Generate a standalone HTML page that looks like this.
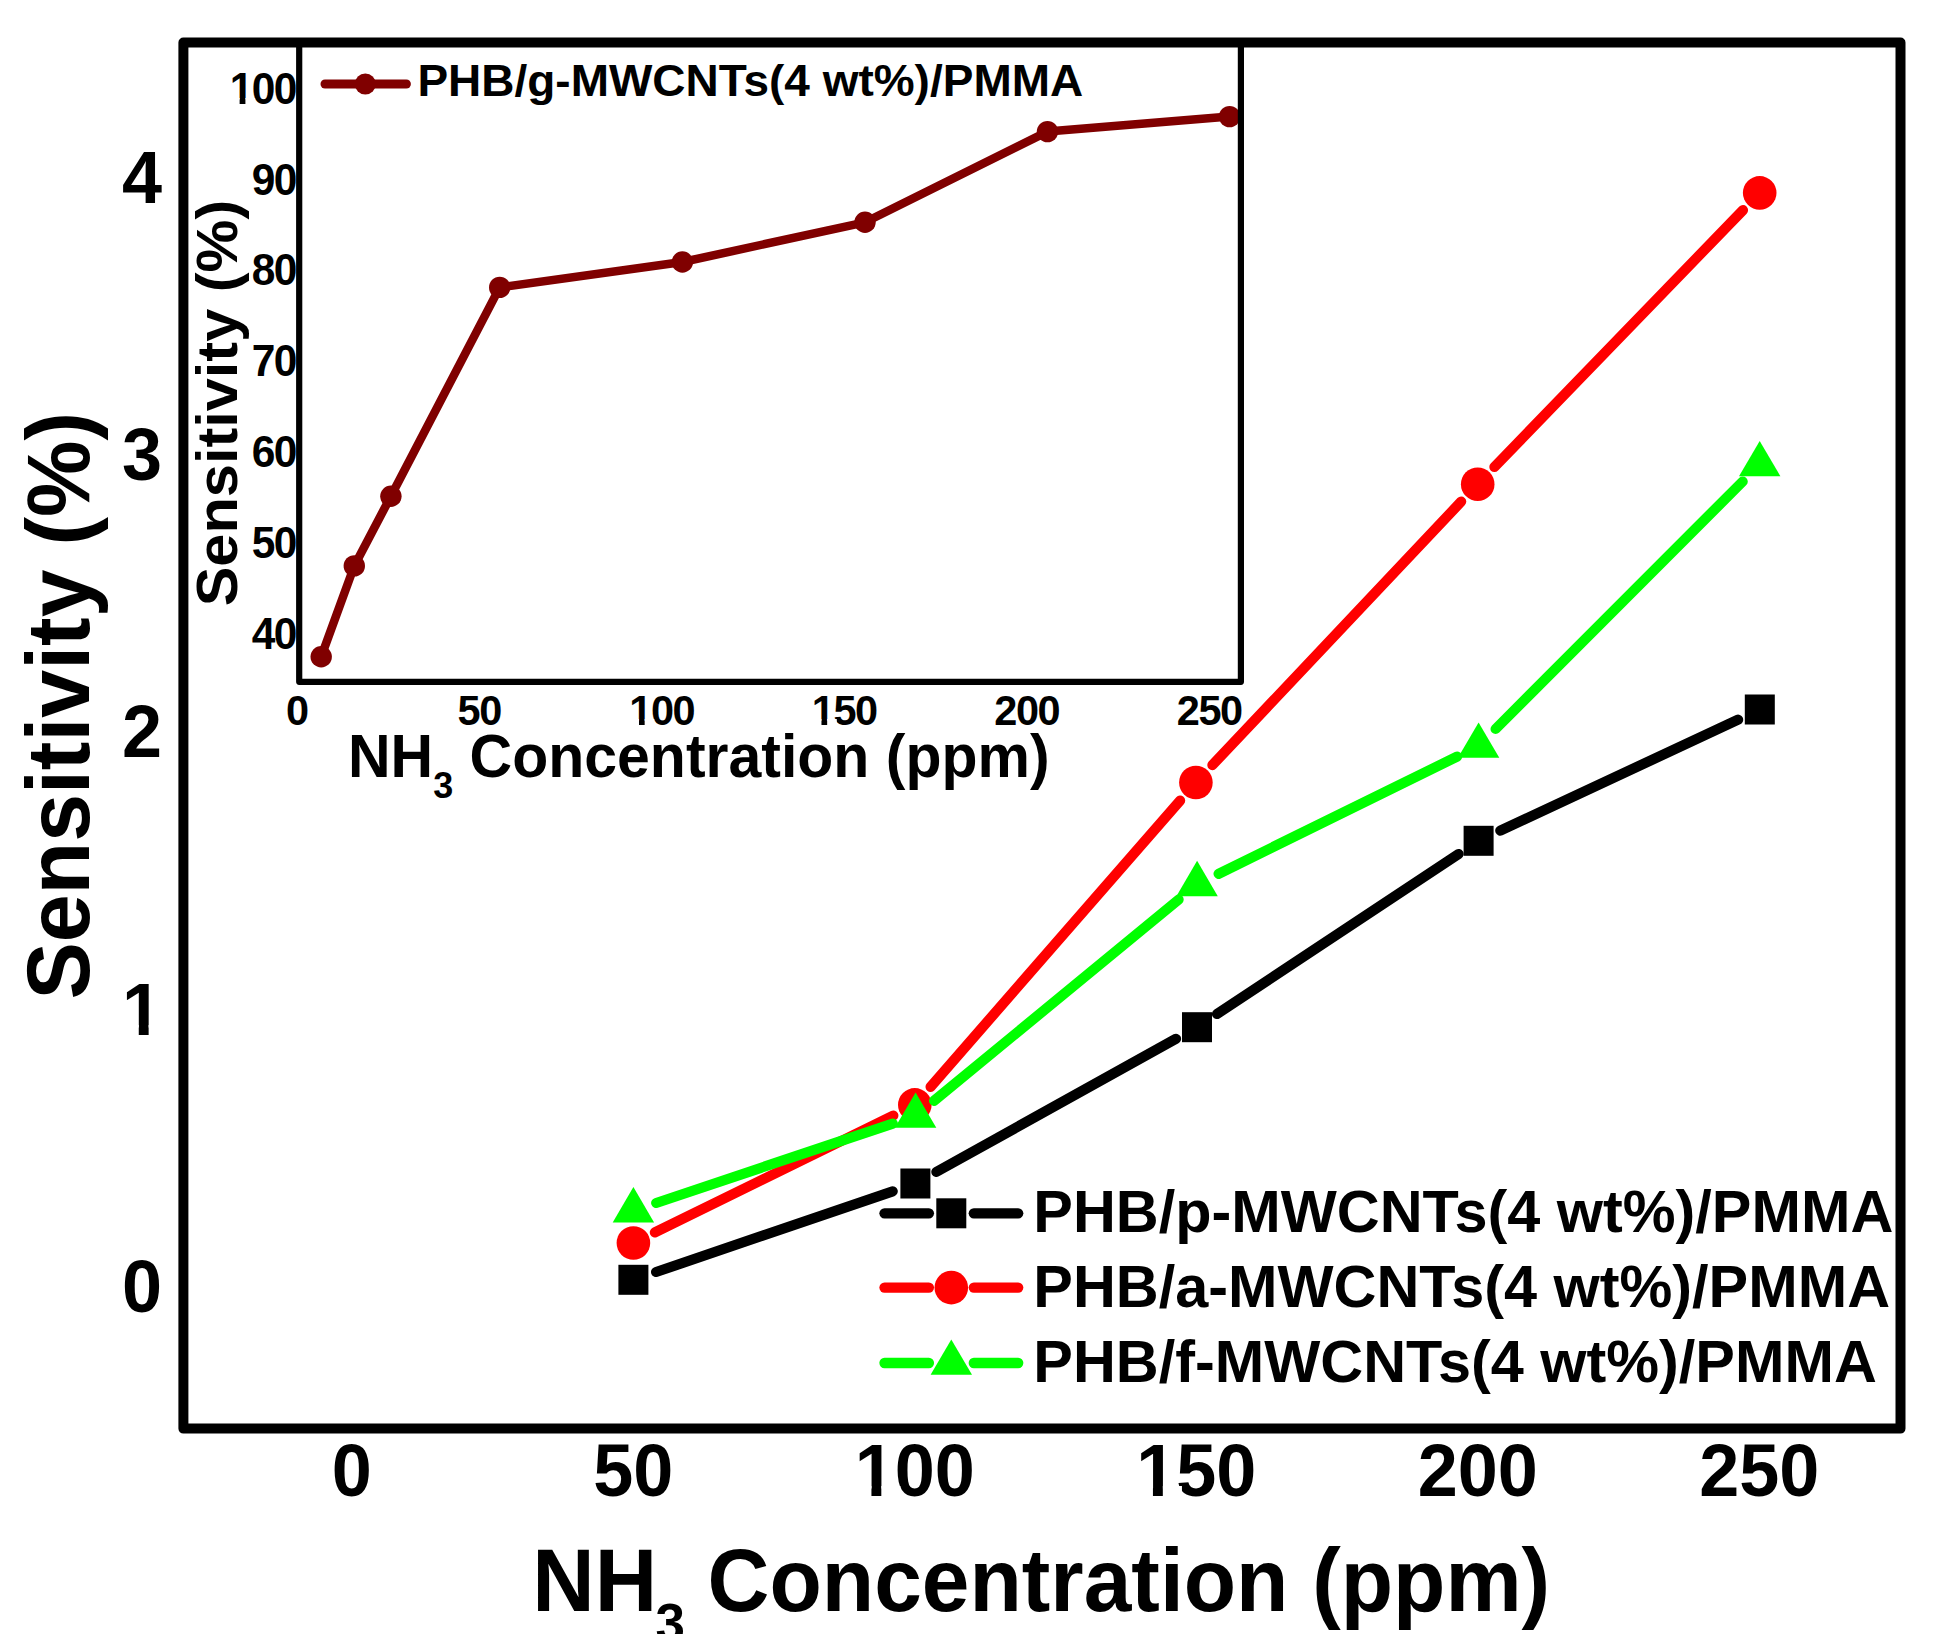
<!DOCTYPE html>
<html><head><meta charset="utf-8"><title>NH3 sensitivity chart</title>
<style>html,body{margin:0;padding:0;background:#fff;}svg{display:block;}text{font-family:"Liberation Sans",sans-serif;font-weight:bold;fill:#000;}</style>
</head><body>
<svg width="1948" height="1648" viewBox="0 0 1948 1648">
<rect x="0" y="0" width="1948" height="1648" fill="#fff"/>
<g stroke="#000" stroke-width="10.2" stroke-linecap="round" fill="none"><line x1="656.1" y1="1272.0" x2="892.7" y2="1191.3"/><line x1="936.4" y1="1171.9" x2="1176.0" y2="1038.8"/><line x1="1217.0" y1="1014.0" x2="1458.6" y2="854.0"/><line x1="1500.3" y1="830.6" x2="1738.1" y2="719.7"/></g>
<g fill="#000"><rect x="618.4" y="1264.8" width="30" height="30"/><rect x="900.4" y="1168.5" width="30" height="30"/><rect x="1182.0" y="1012.2" width="30" height="30"/><rect x="1463.6" y="825.8" width="30" height="30"/><rect x="1744.8" y="694.5" width="30" height="30"/></g>
<g stroke="#f00" stroke-width="10.2" stroke-linecap="round" fill="none"><line x1="654.9" y1="1232.4" x2="893.3" y2="1115.5"/><line x1="930.6" y1="1086.8" x2="1180.1" y2="800.6"/><line x1="1212.4" y1="765.1" x2="1461.2" y2="501.6"/><line x1="1494.4" y1="467.0" x2="1743.0" y2="210.1"/></g>
<g fill="#f00"><circle cx="633.4" cy="1243.0" r="16.8"/><circle cx="914.8" cy="1104.9" r="16.8"/><circle cx="1195.9" cy="782.5" r="16.8"/><circle cx="1477.7" cy="484.2" r="16.8"/><circle cx="1759.7" cy="192.9" r="16.8"/></g>
<g stroke="#0f0" stroke-width="10.2" stroke-linecap="round" fill="none"><line x1="656.2" y1="1203.0" x2="892.8" y2="1123.6"/><line x1="934.1" y1="1100.8" x2="1178.6" y2="899.6"/><line x1="1218.6" y1="873.8" x2="1457.1" y2="756.6"/><line x1="1495.6" y1="729.0" x2="1742.7" y2="481.5"/></g>
<g fill="#0f0"><polygon points="633.4,1187.0 612.7,1222.4 654.1,1222.4"/><polygon points="915.6,1092.4 894.9,1127.8 936.3,1127.8"/><polygon points="1197.1,860.8 1176.4,896.2 1217.8,896.2"/><polygon points="1478.6,722.4 1457.9,757.8 1499.3,757.8"/><polygon points="1759.7,440.9 1739.0,476.3 1780.4,476.3"/></g>
<g stroke="#000" stroke-width="10.3" stroke-linecap="round"><line x1="884.5" y1="1213.3" x2="928.9" y2="1213.3"/><line x1="973.8" y1="1213.3" x2="1018.2" y2="1213.3"/></g><g fill="#000"><rect x="936.3" y="1198.3" width="30" height="30"/></g>
<g stroke="#f00" stroke-width="10.3" stroke-linecap="round"><line x1="884.5" y1="1287.6" x2="928.9" y2="1287.6"/><line x1="973.8" y1="1287.6" x2="1018.2" y2="1287.6"/></g><g fill="#f00"><circle cx="951.3" cy="1287.6" r="16.8"/></g>
<g stroke="#0f0" stroke-width="10.3" stroke-linecap="round"><line x1="884.5" y1="1363" x2="928.9" y2="1363"/><line x1="973.8" y1="1363" x2="1018.2" y2="1363"/></g><g fill="#0f0"><polygon points="951.3,1339.4 930.6,1374.8 972.0,1374.8"/></g>
<g font-size="59.4">
<text x="1033.3" y="1232">PHB/p-MWCNTs(4 wt%)/PMMA</text>
<text x="1033.3" y="1306.7">PHB/a-MWCNTs(4 wt%)/PMMA</text>
<text x="1033.3" y="1381.5">PHB/f-MWCNTs(4 wt%)/PMMA</text>
</g>
<polyline fill="none" stroke="#800000" stroke-width="8.5" stroke-linejoin="round" points="321.2,656.8 354.3,565.9 390.9,496.2 499.7,287.4 682.4,262 865,222.3 1047.5,131.6 1229.6,116.6"/>
<g fill="#800000"><circle cx="321.2" cy="656.8" r="10.7"/><circle cx="354.3" cy="565.9" r="10.7"/><circle cx="390.9" cy="496.2" r="10.7"/><circle cx="499.7" cy="287.4" r="10.7"/><circle cx="682.4" cy="262.0" r="10.7"/><circle cx="865.0" cy="222.3" r="10.7"/><circle cx="1047.5" cy="131.6" r="10.7"/><circle cx="1229.6" cy="116.6" r="10.7"/></g>
<line x1="325" y1="84" x2="406.4" y2="84" stroke="#800000" stroke-width="9" stroke-linecap="round"/>
<circle cx="365.3" cy="84" r="10.5" fill="#800000"/>
<text x="417.4" y="96" font-size="46" transform="translate(0,96) scale(1,0.97) translate(0,-96)">PHB/g-MWCNTs(4 wt%)/PMMA</text>
<path d="M299.2,45 V681.8 H1240.9 V45" stroke="#000" stroke-width="6.2" fill="none" stroke-linejoin="round"/>
<text x="251.73" y="648.6" font-size="42.5" letter-spacing="-1.6" transform="translate(0,648.6) scale(1,1.035) translate(0,-648.6)">40</text>
<text x="251.73" y="557.8" font-size="42.5" letter-spacing="-1.6" transform="translate(0,557.8) scale(1,1.035) translate(0,-557.8)">50</text>
<text x="251.73" y="467.0" font-size="42.5" letter-spacing="-1.6" transform="translate(0,467.0) scale(1,1.035) translate(0,-467.0)">60</text>
<text x="251.73" y="376.2" font-size="42.5" letter-spacing="-1.6" transform="translate(0,376.2) scale(1,1.035) translate(0,-376.2)">70</text>
<text x="251.73" y="285.4" font-size="42.5" letter-spacing="-1.6" transform="translate(0,285.4) scale(1,1.035) translate(0,-285.4)">80</text>
<text x="251.73" y="194.6" font-size="42.5" letter-spacing="-1.6" transform="translate(0,194.6) scale(1,1.035) translate(0,-194.6)">90</text>
<clipPath id="c1"><path d="M224.69,57.05 H302.40 V116.55 H255.13 V98.27 H245.44 V116.55 H239.61 V98.27 H224.69 Z"/></clipPath><text x="229.69" y="103.8" font-size="42.5" letter-spacing="-1.6" transform="translate(0,103.8) scale(1,1.035) translate(0,-103.8)" clip-path="url(#c1)">100</text>
<text x="285.96" y="724.7" font-size="41.5" transform="translate(0,724.7) scale(1,1.035) translate(0,-724.7)">0</text>
<text x="457.62" y="724.7" font-size="41.5" letter-spacing="-1.4" transform="translate(0,724.7) scale(1,1.035) translate(0,-724.7)">50</text>
<clipPath id="c2"><path d="M624.28,679.05 H700.72 V737.15 H654.28 V719.31 H644.66 V737.15 H638.97 V719.31 H624.28 Z"/></clipPath><text x="629.28" y="724.7" font-size="41.5" letter-spacing="-1.4" transform="translate(0,724.7) scale(1,1.035) translate(0,-724.7)" clip-path="url(#c2)">100</text>
<clipPath id="c3"><path d="M806.78,679.05 H883.22 V737.15 H836.78 V719.31 H827.16 V737.15 H821.47 V719.31 H806.78 Z"/></clipPath><text x="811.78" y="724.7" font-size="41.5" letter-spacing="-1.4" transform="translate(0,724.7) scale(1,1.035) translate(0,-724.7)" clip-path="url(#c3)">150</text>
<text x="994.28" y="724.7" font-size="41.5" letter-spacing="-1.4" transform="translate(0,724.7) scale(1,1.035) translate(0,-724.7)">200</text>
<text x="1176.78" y="724.7" font-size="41.5" letter-spacing="-1.4" transform="translate(0,724.7) scale(1,1.035) translate(0,-724.7)">250</text>
<g transform="translate(0,777) scale(1,1.035) translate(0,-777)">
<text font-size="59"><tspan x="348" y="777">NH</tspan><tspan x="433.3" y="797.3" font-size="36">3</tspan><tspan x="453.2" y="777"> Concentration (ppm)</tspan></text>
</g>
<text transform="translate(237.4,403.0) rotate(-90) scale(1,0.975)" text-anchor="middle" font-size="59.5">Sensitivity (%)</text>
<rect x="183.4" y="42.6" width="1717.1" height="1386" fill="none" stroke="#000" stroke-width="10" stroke-linejoin="round"/>
<text x="331.68" y="1495.8" font-size="72" transform="translate(0,1495.8) scale(1,1.035) translate(0,-1495.8)">0</text>
<text x="593.16" y="1495.8" font-size="72" transform="translate(0,1495.8) scale(1,1.035) translate(0,-1495.8)">50</text>
<clipPath id="c4"><path d="M849.64,1416.60 H979.76 V1517.40 H900.44 V1486.44 H881.32 V1517.40 H871.44 V1486.44 H849.64 Z"/></clipPath><text x="854.64" y="1495.8" font-size="72" transform="translate(0,1495.8) scale(1,1.035) translate(0,-1495.8)" clip-path="url(#c4)">100</text>
<clipPath id="c5"><path d="M1131.14,1416.60 H1261.26 V1517.40 H1181.94 V1486.44 H1162.82 V1517.40 H1152.94 V1486.44 H1131.14 Z"/></clipPath><text x="1136.14" y="1495.8" font-size="72" transform="translate(0,1495.8) scale(1,1.035) translate(0,-1495.8)" clip-path="url(#c5)">150</text>
<text x="1417.64" y="1495.8" font-size="72" transform="translate(0,1495.8) scale(1,1.035) translate(0,-1495.8)">200</text>
<text x="1699.14" y="1495.8" font-size="72" transform="translate(0,1495.8) scale(1,1.035) translate(0,-1495.8)">250</text>
<text x="121.96" y="1311.8" font-size="72" transform="translate(0,1311.8) scale(1,1.035) translate(0,-1311.8)">0</text>
<clipPath id="c6"><path d="M116.96,955.45 H167.00 V1056.25 H167.00 V1025.29 H148.64 V1056.25 H138.76 V1025.29 H116.96 Z"/></clipPath><text x="121.96" y="1034.7" font-size="72" transform="translate(0,1034.7) scale(1,1.035) translate(0,-1034.7)" clip-path="url(#c6)">1</text>
<text x="121.96" y="757.5" font-size="72" transform="translate(0,757.5) scale(1,1.035) translate(0,-757.5)">2</text>
<text x="121.96" y="480.4" font-size="72" transform="translate(0,480.4) scale(1,1.035) translate(0,-480.4)">3</text>
<text x="121.96" y="203.2" font-size="72" transform="translate(0,203.2) scale(1,1.035) translate(0,-203.2)">4</text>
<g transform="translate(0,1611) scale(1,1.035) translate(0,-1611)">
<text font-size="86.5"><tspan x="532.2" y="1611">NH</tspan><tspan x="655.6" y="1641.4" font-size="53">3</tspan><tspan x="683.8" y="1611" font-size="85.7"> Concentration (ppm)</tspan></text>
</g>
<rect x="0" y="1634" width="1948" height="14" fill="#fff"/>
<text transform="translate(88.8,705.7) rotate(-90) scale(1,1.035)" text-anchor="middle" font-size="86">Sensitivity (%)</text>
</svg></body></html>
